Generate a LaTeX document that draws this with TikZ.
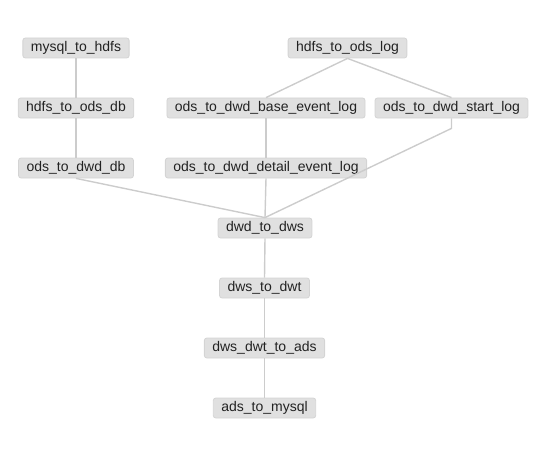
\documentclass[tikz,border=0pt]{standalone}
\usepackage{fontspec}
\setmainfont{Liberation Sans}
\definecolor{boxfill}{HTML}{E0E0E0}
\definecolor{boxline}{HTML}{D4D4D4}
\definecolor{linkgray}{HTML}{CCCCCC}
\definecolor{labelink}{HTML}{222222}
\tikzset{
  job/.style={draw=boxline, fill=boxfill, rounded corners=2.5pt, line width=.8pt,
    minimum height=20pt, inner xsep=8pt, inner ysep=0pt, text=labelink,
    font=\fontsize{14}{16}\selectfont},
  link/.style={draw=linkgray, line width=1.4pt}
}
\begin{document}
\begin{tikzpicture}[x=1pt, y=-1pt]
\useasboundingbox (0,0) rectangle (552,452);
\node[job] (mysqlhdfs) at (76,48) {mysql\_to\_hdfs};
\node[job] (hdfslog) at (347.5,48) {hdfs\_to\_ods\_log};
\node[job] (hdfsdb) at (76,108) {hdfs\_to\_ods\_db};
\node[job] (baseevent) at (266,108) {ods\_to\_dwd\_base\_event\_log};
\node[job] (startlog) at (451.5,108) {ods\_to\_dwd\_start\_log};
\node[job] (dwddb) at (76,168) {ods\_to\_dwd\_db};
\node[job] (detailevent) at (266,168) {ods\_to\_dwd\_detail\_event\_log};
\node[job] (dwddws) at (265,228) {dwd\_to\_dws};
\node[job] (dwsdwt) at (264.5,288) {dws\_to\_dwt};
\node[job] (dwtads) at (264.5,348) {dws\_dwt\_to\_ads};
\node[job] (adsmysql) at (264.5,408) {ads\_to\_mysql};

\draw[link] (mysqlhdfs.south) -- (hdfsdb.north);
\draw[link] (hdfsdb.south) -- (dwddb.north);
\draw[link] (hdfslog.south) -- (baseevent.north);
\draw[link] (hdfslog.south) -- (startlog.north);
\draw[link] (baseevent.south) -- (detailevent.north);
\draw[link] (dwddb.south) -- (dwddws.north);
\draw[link] (detailevent.south) -- (dwddws.north);
\draw[link] (startlog.south) -- ++(0,10) -- (dwddws.north);
\draw[link] (dwddws.south) -- (dwsdwt.north);
\draw[link] (dwsdwt.south) -- (dwtads.north);
\draw[link] (dwtads.south) -- (adsmysql.north);
\end{tikzpicture}
\end{document}
